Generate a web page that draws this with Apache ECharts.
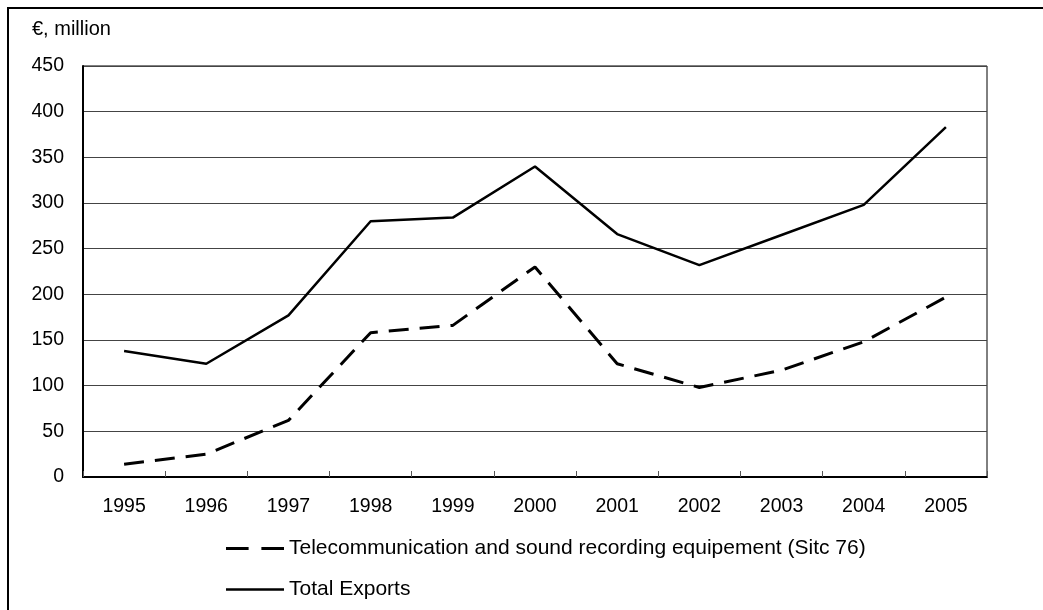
<!DOCTYPE html>
<html>
<head>
<meta charset="utf-8">
<script src="https://cdn.jsdelivr.net/npm/echarts@6/dist/echarts.min.js"></script>
<style>
html,body{margin:0;padding:0;background:#fff;}
#chart{width:1043px;height:610px;}
</style>
</head>
<body>
<div id="chart"></div>
<script>
const years = ['1995','1996','1997','1998','1999','2000','2001','2002','2003','2004','2005'];
const telecom = [14, 25, 62, 158, 166, 230, 124, 98, 117, 148, 197];
const totalExports = [138, 124, 177, 280, 284, 340, 266, 232, 265, 298, 383];
const seriesNames = ['Telecommunication and sound recording equipement (Sitc 76)', 'Total Exports'];
const yTicks = { min: 0, max: 450, interval: 50 };
const unitLabel = '€, million';

const font = 'Liberation Sans, Arial, sans-serif';
const fs = 19.5;
const chart = echarts.init(document.getElementById('chart'));
chart.setOption({
  backgroundColor: '#fff',
  animation: false,
  graphic: [
    { type: 'rect', shape: { x: 8, y: 8, width: 1200, height: 800 }, style: { fill: 'none', stroke: '#000', lineWidth: 2 }, z: -1 },
    { type: 'text', left: 32, top: 19, style: { text: unitLabel, font: '20px ' + font, fill: '#000' } }
  ],
  grid: { left: 83, top: 66, right: 56, bottom: 133, show: true, borderColor: '#000', borderWidth: 1, backgroundColor: 'transparent' },
  legend: {
    orient: 'vertical', left: 226, top: 538, itemGap: 20, itemWidth: 58, itemHeight: 20, padding: 0,
    textStyle: { fontFamily: font, fontSize: 21, color: '#000' },
    itemStyle: { color: '#000' },
    data: [
      { name: seriesNames[0], icon: 'path://M0,0H23V3H0Z M36,0H59V3H36Z' },
      { name: seriesNames[1], icon: 'path://M0,0H59V2.5H0Z' }
    ]
  },
  xAxis: {
    type: 'category', data: years, boundaryGap: true,
    axisLine: { lineStyle: { color: '#000', width: 2 } },
    axisTick: { show: true, inside: true, length: 6, lineStyle: { color: '#555' } },
    axisLabel: { color: '#000', fontFamily: font, fontSize: fs, margin: 20 }
  },
  yAxis: {
    type: 'value', min: yTicks.min, max: yTicks.max, interval: yTicks.interval,
    axisLine: { show: true, lineStyle: { color: '#000', width: 2 } },
    axisTick: { show: false },
    splitLine: { lineStyle: { color: '#444', width: 1 } },
    axisLabel: { color: '#000', fontFamily: font, fontSize: fs, margin: 19 }
  },
  series: [
    {
      name: seriesNames[0], type: 'line', data: telecom, symbol: 'none',
      lineStyle: { color: '#000', width: 3, type: [20, 11] }, itemStyle: { color: '#000' }
    },
    {
      name: seriesNames[1], type: 'line', data: totalExports, symbol: 'none',
      lineStyle: { color: '#000', width: 2.5 }, itemStyle: { color: '#000' }
    }
  ]
});
</script>
</body>
</html>
